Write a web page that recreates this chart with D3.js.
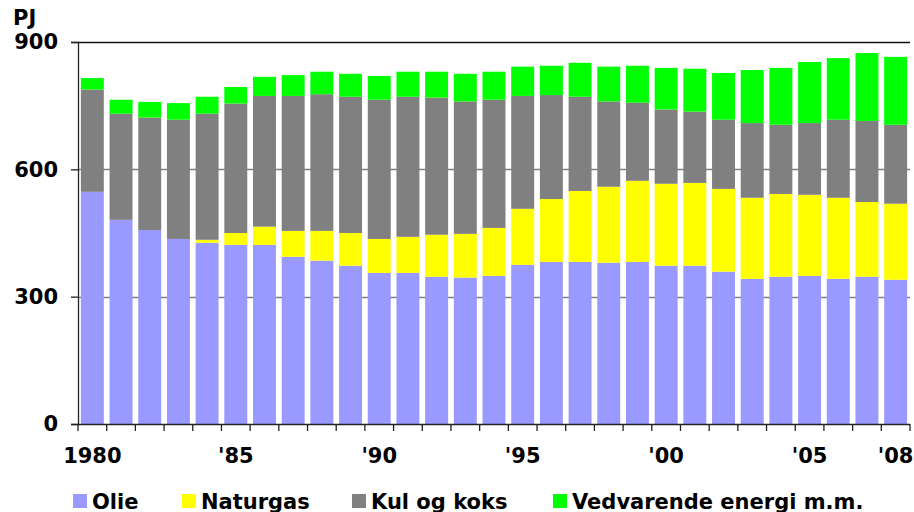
<!DOCTYPE html>
<html>
<head>
<meta charset="utf-8">
<script src="https://cdn.jsdelivr.net/npm/d3@7"></script>
<style>
  body { margin: 0; background: #fff; }
  text { font-family: "DejaVu Sans", Verdana, sans-serif; font-weight: bold; }
</style>
</head>
<body>
<div id="chart"></div>
<script>
// energy consumption by fuel, PJ, 1980-2008
const years = d3.range(1980, 2009);
const yearLabels = { 1980: "1980", 1985: "'85", 1990: "'90", 1995: "'95", 2000: "'00", 2005: "'05", 2008: "'08" };
const seriesNames = ["Olie", "Naturgas", "Kul og koks", "Vedvarende energi m.m."];
const seriesColors = ["#9999ff", "#ffff00", "#808080", "#00ff00"];

const olie = [547, 481, 457, 436, 427, 422, 422, 394, 385, 373, 356, 356, 347, 345, 349,
              375, 382, 382, 380, 382, 373, 373, 359, 342, 347, 349, 342, 347, 340];
const naturgas = [0, 0, 0, 0, 7, 28, 43, 61, 70, 77, 80, 85, 99, 103, 113,
                  132, 148, 167, 179, 191, 193, 195, 195, 191, 195, 191, 191, 176, 179];
const kul = [241, 250, 265, 281, 297, 305, 308, 318, 322, 321, 328, 330, 323, 312, 302,
             266, 245, 222, 201, 184, 175, 168, 163, 176, 163, 169, 184, 191, 186];
const vedvarende = [27, 33, 37, 39, 40, 39, 45, 49, 53, 54, 56, 59, 61, 65, 66,
                    69, 69, 80, 82, 87, 98, 101, 110, 125, 134, 144, 145, 160, 160];
const yTicks = [0, 300, 600, 900];

const width = 914, height = 512;
const margin = { top: 42, right: 4, bottom: 88, left: 78 };
const innerW = width - margin.left - margin.right;
const innerH = height - margin.top - margin.bottom;

const svg = d3.select("#chart").append("svg")
  .attr("width", width)
  .attr("height", height);

const g = svg.append("g").attr("transform", `translate(${margin.left},${margin.top})`);

const table = years.map((yr, i) => ({
  year: yr, Olie: olie[i], Naturgas: naturgas[i], "Kul og koks": kul[i], "Vedvarende energi m.m.": vedvarende[i]
}));
const stacked = d3.stack().keys(seriesNames)(table);

const x = d3.scaleBand().domain(years).range([0, innerW]).paddingInner(0.2).paddingOuter(0.1);
const y = d3.scaleLinear().domain([0, 900]).range([innerH, 0]);
const color = d3.scaleOrdinal().domain(seriesNames).range(seriesColors);

// gridlines
g.selectAll(".grid").data(yTicks.filter(t => t > 0)).join("line")
  .attr("x1", 0).attr("x2", innerW)
  .attr("y1", d => Math.round(y(d)) + 0.5).attr("y2", d => Math.round(y(d)) + 0.5)
  .attr("stroke", d => d === 900 ? "#111" : "#808080")
  .attr("stroke-width", 1.3);

// bars
g.selectAll(".layer").data(stacked).join("g")
  .attr("fill", d => color(d.key))
  .selectAll("rect").data(d => d).join("rect")
  .attr("x", d => x(d.data.year))
  .attr("width", x.bandwidth())
  .attr("y", d => y(d[1]))
  .attr("height", d => y(d[0]) - y(d[1]));

// y axis
const yAxis = g.append("g")
  .call(d3.axisLeft(y).tickValues(yTicks).tickSize(7).tickPadding(13));
yAxis.select(".domain").attr("stroke", "#222").attr("stroke-width", 1.3);
yAxis.selectAll(".tick line").attr("stroke", "#222").attr("stroke-width", 1.3);
yAxis.selectAll("text").attr("font-size", 21).attr("fill", "#000")
  .style("font-family", "'DejaVu Sans', sans-serif").style("font-weight", "bold");

// x axis: ticks between categories, labels on selected years
const xAxis = g.append("g").attr("transform", `translate(0,${innerH})`);
xAxis.append("line").attr("x1", 0).attr("x2", innerW).attr("y1", 0.5).attr("y2", 0.5)
  .attr("stroke", "#222").attr("stroke-width", 1.3);
const step = x.step();
const boundaries = d3.range(years.length + 1).map(i => x(years[0]) - x.paddingOuter() * step + i * step);
xAxis.selectAll(".xt").data(boundaries).join("line")
  .attr("x1", d => d).attr("x2", d => d).attr("y1", 0).attr("y2", 7)
  .attr("stroke", "#222").attr("stroke-width", 1.3);
xAxis.selectAll(".xl").data(years.filter(yr => yearLabels[yr])).join("text")
  .attr("x", d => x(d) + x.bandwidth() / 2)
  .attr("y", 39)
  .attr("text-anchor", "middle")
  .attr("font-size", 21)
  .text(d => yearLabels[d]);

// unit label
svg.append("text").attr("x", 13).attr("y", 25).attr("font-size", 21).text("PJ");

// legend
const legendX = [73, 182, 352, 553];
const legend = svg.selectAll(".legend").data(seriesNames).join("g")
  .attr("transform", (d, i) => `translate(${legendX[i]},494)`);
legend.append("rect").attr("width", 14).attr("height", 14).attr("fill", d => color(d));
legend.append("text").attr("x", 19).attr("y", 14.5).attr("font-size", 21).text(d => d);
</script>
</body>
</html>
